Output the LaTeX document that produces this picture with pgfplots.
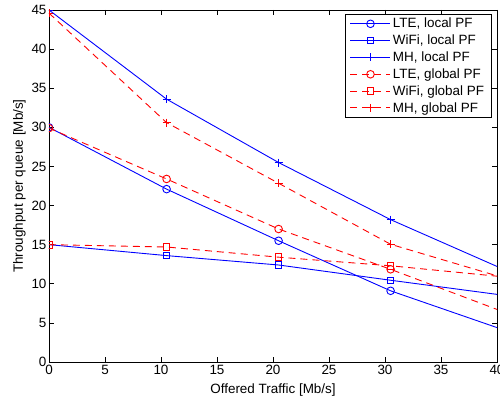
\documentclass[border=0pt]{standalone}
\usepackage{fontspec}
\setmainfont{Liberation Sans}
\usepackage{pgfplots}
\pgfplotsset{compat=1.18}
\definecolor{mblue}{rgb}{0,0,1}
\definecolor{mred}{rgb}{1,0,0}
\begin{document}
\begin{tikzpicture}
\begin{axis}[
  scale only axis,
  width=448bp, height=352bp,
  xmin=0, xmax=40, ymin=0, ymax=45,
  xtick={0,5,...,40}, ytick={0,5,...,45},
  /pgf/number format/assume math mode=true,
  tick label style={font=\fontsize{13.5}{15}\selectfont},
  label style={font=\fontsize{13.5}{15}\selectfont},
  xlabel={Offered Traffic [Mb/s]},
  ylabel={Throughput per queue [Mb/s]},
  xlabel style={yshift=-2bp},
  yticklabel style={xshift=1bp},
  ylabel style={yshift=-1bp},
  tick align=inside,
  major tick length=5bp,
  axis line style={line width=0.8pt},
  tick style={line width=0.6pt, black},
  clip marker paths=true,
  legend style={at={(0.9875,0.9875)}, anchor=north east, font=\fontsize{13.5}{15}\selectfont,
    draw=black, line width=0.6pt, row sep=1.6bp, inner xsep=5bp, inner ysep=1.5bp},
  legend cell align=left,
  legend image code/.code={%
    \draw[mark repeat=2,mark phase=2,#1] plot coordinates {(0bp,0bp) (20bp,0bp) (40bp,0bp)};},
  every axis plot/.append style={line width=0.9pt},
]
\addplot[mblue, solid, mark=o, mark size=3.8bp, mark options={solid}] coordinates {(0,30) (10.5,22.1) (20.5,15.5) (30.5,9.1) (40.5,4.15)};
\addlegendentry{LTE, local PF}
\addplot[mblue, solid, mark=square, mark size=3.3bp, mark options={solid}] coordinates {(0,15) (10.5,13.6) (20.5,12.4) (30.5,10.45) (40.5,8.55)};
\addlegendentry{WiFi, local PF}
\addplot[mblue, solid, mark=+, mark size=4bp, mark options={solid}] coordinates {(0,45) (10.5,33.6) (20.5,25.5) (30.5,18.2) (40.5,11.9)};
\addlegendentry{MH, local PF}
\addplot[mred, dash pattern=on 7bp off 5bp, mark=o, mark size=3.8bp, mark options={solid}] coordinates {(0,29.9) (10.5,23.4) (20.5,17.0) (30.5,11.85) (40.5,6.45)};
\addlegendentry{LTE, global PF}
\addplot[mred, dash pattern=on 7bp off 5bp, mark=square, mark size=3.3bp, mark options={solid}] coordinates {(0,15) (10.5,14.7) (20.5,13.4) (30.5,12.3) (40.5,10.9)};
\addlegendentry{WiFi, global PF}
\addplot[mred, dash pattern=on 7bp off 5bp, mark=+, mark size=4bp, mark options={solid}] coordinates {(0,44.6) (10.5,30.6) (20.5,22.85) (30.5,15.05) (40.5,10.8)};
\addlegendentry{MH, global PF}
\end{axis}
\pgfresetboundingbox
\path (current axis.south west) ++(-49bp,-40bp) rectangle ([xshift=3bp,yshift=10bp]current axis.north east);
\end{tikzpicture}
\end{document}
